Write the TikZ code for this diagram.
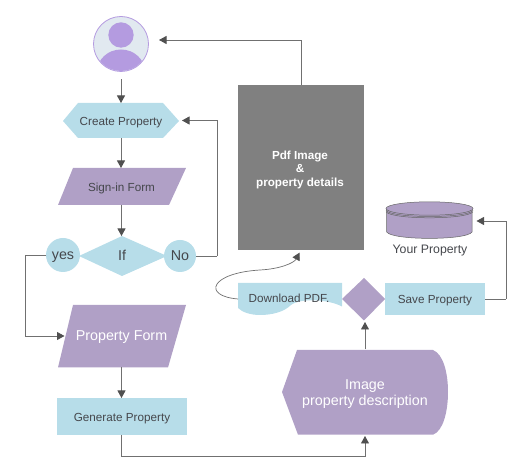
\documentclass[tikz,border=0pt]{standalone}
\usepackage{fontspec}
\setmainfont{Liberation Sans}
\usetikzlibrary{arrows.meta}
\definecolor{lblue}{HTML}{B7DDE9}
\definecolor{lpurple}{HTML}{B0A0C6}
\definecolor{avbg}{HTML}{E1E9F0}
\definecolor{avpurple}{HTML}{B49BE0}
\definecolor{txt}{HTML}{45474C}
\definecolor{conn}{HTML}{707070}
\definecolor{tipc}{HTML}{505050}
\newcommand\lowtext[1]{\raisebox{-5pt}[0pt][0pt]{#1}}
\tikzset{
  x=1pt,y=-1pt,
  box/.style={inner sep=0pt,outer sep=0pt,align=center,text=txt,font=\fontsize{11.7}{14}\selectfont},
  bigbox/.style={box,font=\fontsize{14.3}{15.5}\selectfont},
  bluefill/.style={fill=lblue},
  purplefill/.style={fill=lpurple},
  link/.style={draw=conn,line width=0.9pt,-{Triangle[width=8pt,length=7.5pt,fill=tipc,color=tipc]}},
  plainlink/.style={draw=conn,line width=0.9pt},
  cyl/.style={draw=black!60,line width=0.5pt},
}
\begin{document}
\begin{tikzpicture}
\useasboundingbox (0,0) rectangle (531,470);
% shapes
\fill[avbg,draw=avpurple,line width=0.8pt] (121,44) circle[radius=27.5];
\begin{scope}
  \clip (121,44) circle[radius=27];
  \fill[avpurple] (121,72) ellipse[x radius=24,y radius=22.5];
\end{scope}
\fill[avpurple] (121,35) circle[radius=12.7];
\fill[bluefill] (63,121)--(78,103)--(163,103)--(179,121)--(163,138)--(78,138)--cycle;
\fill[purplefill] (73,168)--(186,168)--(169,205)--(58,205)--cycle;
\fill[bluefill] (79,256)--(122,236)--(167,256)--(122,276)--cycle;
\fill[bluefill] (63,255) circle[radius=17];
\fill[bluefill] (180,256) circle[radius=16];
\fill[purplefill] (73,305)--(186,305)--(168,367.5)--(58,367.5)--cycle;
\fill[bluefill] (57,398) rectangle (187,435);
\fill[purplefill] (282,392)--(297,350)--(433,350) .. controls (443,354) and (448,372) .. (448,392) .. controls (448,412) and (443,431) .. (433,434.7)--(298,434.7)--cycle;
\fill[bluefill] (238,283)--(342,283)--(342,306.5) .. controls (328,299) and (300,298) .. (291,305) .. controls (284,312) and (272,315) .. (260,315) .. controls (250,315) and (242,312) .. (238,308)--cycle;
\fill[purplefill] (342,299)--(364,278)--(385,299)--(364,320.5)--cycle;
\fill[bluefill] (385,283) rectangle (485,315);
\fill[black!50] (238,85) rectangle (364,250);
% cylinder
\filldraw[fill=lpurple,cyl] (386.7,209) -- (386.7,232) .. controls (392,240.5) and (467,240.5) .. (472,232) -- (472,209) -- cycle;
\filldraw[fill=lpurple,cyl] (429.5,208.5) ellipse[x radius=43.5,y radius=6.7];
\draw[cyl] (386,210.5) .. controls (392,218.5) and (467,218.5) .. (473,210.5);
\draw[cyl] (386,211.8) .. controls (392,219.8) and (467,219.8) .. (473,211.8);
% nodes
\node[box,minimum width=55pt,minimum height=55pt] (avatar) at (121,44) {};
\node[box,minimum width=116pt,minimum height=35pt] (create) at (121,120.5) {\lowtext{Create Property}};
\node[box,minimum width=128pt,minimum height=37pt] (signin) at (121.5,186.5) {\lowtext{Sign-in Form}};
\node[bigbox,minimum width=88pt,minimum height=40pt] (iff) at (122,256) {\lowtext{If}};
\node[bigbox,minimum width=34pt,minimum height=34pt] (yes) at (63,255) {\lowtext{yes}};
\node[bigbox,minimum width=32pt,minimum height=32pt] (no) at (180,256) {\lowtext{No}};
\node[bigbox,minimum width=128pt,minimum height=62pt,text=white] (form) at (121.5,336) {\lowtext{Property Form}};
\node[box,minimum width=130pt,minimum height=37pt] (generate) at (122,416.5) {\lowtext{Generate Property}};
\node[bigbox,minimum width=166pt,minimum height=85pt] (image) at (365,392) {};
\node[bigbox,text=white] (imagetext) at (365,394) {Image\\property description};
\node[box,minimum width=104pt,minimum height=32pt] (download) at (290,299) {};
\node[box] (downloadtext) at (289,298) {Download PDF.};
\node[box,minimum width=43pt,minimum height=42pt] (choice) at (364,299) {};
\node[box,minimum width=100pt,minimum height=32pt] (save) at (435,299) {\lowtext{Save Property}};
\node[box,minimum width=126pt,minimum height=165pt] (pdf) at (301,167.5) {};
\node[box,text=white,font=\fontsize{11.7}{13.5}\bfseries\selectfont] (pdftext) at (300,169.5) {Pdf Image\\\&\\property details};
\node[box,minimum width=87pt,minimum height=36pt] (store) at (430,221) {};
\node[box,font=\fontsize{12.3}{14}\selectfont] (storelabel) at (430,249) {\lowtext{Your Property}};
\coordinate (noturn) at (217,256);
\coordinate (yesturn) at (25,255);
\coordinate (saveturn) at (506,299);
\coordinate (genturn) at (121,456);
\coordinate (pdfturn) at (301,40);
% connectors
\draw[link,shorten <=8pt] (avatar.south) -- (create.north);
\draw[link] (create.south) -- (signin.north -| create.south);
\draw[link] (signin.south) -- (iff.north -| signin.south);
\draw[plainlink] (no.east) -- (noturn);
\draw[link,shorten >=3pt] (noturn) |- (create.east);
\draw[plainlink] (yes.west) -- (yesturn);
\draw[link,shorten >=-7pt] (yesturn) |- (form.west);
\draw[link] (form.south) -- (generate.north -| form.south);
\draw[plainlink] (generate.south -| genturn) -- (genturn);
\draw[link,shorten >=1.5pt] (genturn) -| (image.south);
\draw[link,shorten >=2pt] (image.north) -- (choice.south -| image.north);
\draw[plainlink] (save.east) -- (saveturn);
\draw[link,shorten >=3pt] (saveturn) |- (store.east);
\draw[link,line width=0.7pt,shorten >=3pt] (download.west) .. controls (202,296) and (210,273) .. (260,270) .. controls (280,269) and (294,263) .. (pdf.south);
\draw[plainlink] (pdf.north) -- (pdfturn);
\draw[link] (pdfturn) -- (159,40);
\end{tikzpicture}
\end{document}
